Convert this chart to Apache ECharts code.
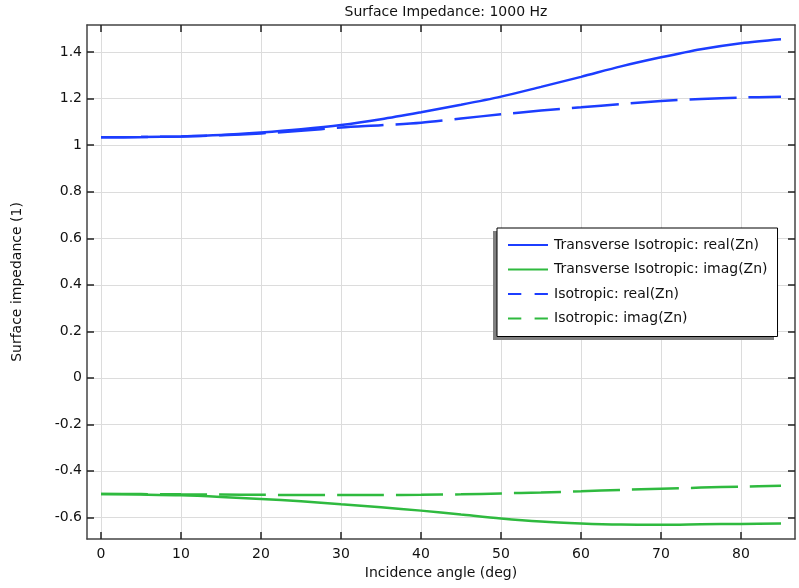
<!DOCTYPE html>
<html>
<head>
<meta charset="utf-8">
<script src="https://cdn.jsdelivr.net/npm/echarts@6/dist/echarts.min.js"></script>
<style>
html,body{margin:0;padding:0;background:#fff;}
#chart{width:799px;height:588px;}
</style>
</head>
<body>
<div id="chart"></div>
<script>
const angles = [0,5,10,15,20,25,30,35,40,45,50,55,60,65,70,75,80,85];
const tiReal = [1.034,1.035,1.038,1.044,1.055,1.069,1.087,1.112,1.142,1.174,1.209,1.251,1.294,1.339,1.378,1.413,1.439,1.456];
const tiImag = [-0.500,-0.502,-0.505,-0.512,-0.521,-0.531,-0.544,-0.557,-0.571,-0.588,-0.605,-0.618,-0.626,-0.631,-0.632,-0.630,-0.628,-0.626];
const isoReal = [1.034,1.035,1.038,1.043,1.051,1.062,1.076,1.086,1.097,1.115,1.133,1.149,1.163,1.177,1.190,1.199,1.205,1.209];
const isoImag = [-0.500,-0.500,-0.501,-0.502,-0.503,-0.504,-0.504,-0.504,-0.503,-0.501,-0.497,-0.493,-0.488,-0.482,-0.477,-0.472,-0.468,-0.464];
const seriesNames = ['Transverse Isotropic: real(Zn)','Transverse Isotropic: imag(Zn)','Isotropic: real(Zn)','Isotropic: imag(Zn)'];
const xTicks = [0,10,20,30,40,50,60,70,80];
const yTicks = [-0.6,-0.4,-0.2,0,0.2,0.4,0.6,0.8,1,1.2,1.4];
const titleText = 'Surface Impedance: 1000 Hz';
const xName = 'Incidence angle (deg)';
const yName = 'Surface impedance (1)';

const BLUE = '#1c3dff';
const GREEN = '#2fba3f';
const FONT = 'DejaVu Sans';
const FS = 14;
const pair = (ys) => angles.map((a,i)=>[a, ys[i]]);

const chart = echarts.init(document.getElementById('chart'), null, {renderer:'canvas'});
const xMin = -1.75, xMax = 86.75, yMin = -0.693, yMax = 1.517;
const gridLine = {show:true, lineStyle:{color:'#dcdcdc', width:1}};
const axisLine = {show:true, onZero:false, lineStyle:{color:'#444', width:1.5}};
const mkTick = (vals) => ({show:true, inside:true, length:7, customValues:vals, lineStyle:{color:'#222', width:1.5}});
const noSym = {color:'rgba(0,0,0,0)', borderWidth:0, borderColor:'rgba(0,0,0,0)', opacity:0};

chart.setOption({
  animation:false,
  backgroundColor:'#fff',
  title:{text:titleText, left:441, textAlign:'center', top:0,
    textStyle:{fontFamily:FONT, fontSize:FS, fontWeight:'normal', color:'#111'}},
  grid:{left:87, right:4, top:25, bottom:49},
  graphic:[
    {type:'rect', z:3, silent:true, shape:{x:493, y:231, width:281, height:109},
     style:{fill:'#808080'}}
  ],
  legend:{
    orient:'vertical', left:497, top:228, z:5,
    itemWidth:40, itemHeight:14, itemGap:10.5,
    padding:[10,10,11,10],
    backgroundColor:'#fff', borderColor:'#000', borderWidth:1,
    textStyle:{fontFamily:FONT, fontSize:FS, color:'#111', padding:[0,0,0,1]},
    itemStyle:noSym,
    data:[
      {name:seriesNames[0], itemStyle:noSym},
      {name:seriesNames[1], itemStyle:noSym},
      {name:seriesNames[2], itemStyle:noSym, lineStyle:{type:[13.3,13.3]}},
      {name:seriesNames[3], itemStyle:noSym, lineStyle:{type:[13.3,13.3]}}
    ]
  },
  xAxis:[
    {type:'value', min:xMin, max:xMax, position:'bottom',
     axisLine:axisLine, axisTick:mkTick(xTicks), splitLine:gridLine,
     axisLabel:{fontFamily:FONT, fontSize:FS, color:'#111', margin:8, customValues:xTicks},
     name:xName, nameLocation:'middle', nameGap:23,
     nameTextStyle:{fontFamily:FONT, fontSize:FS, color:'#111'}},
    {type:'value', min:xMin, max:xMax, position:'top',
     axisLine:axisLine, axisTick:mkTick(xTicks),
     axisLabel:{show:false}, splitLine:{show:false}}
  ],
  yAxis:[
    {type:'value', min:yMin, max:yMax, position:'left',
     axisLine:axisLine, axisTick:mkTick(yTicks), splitLine:gridLine,
     axisLabel:{fontFamily:FONT, fontSize:FS, color:'#111', margin:5, customValues:yTicks,
       formatter:(v)=>String(Math.round(v*10)/10)},
     name:yName, nameLocation:'middle', nameGap:63,
     nameTextStyle:{fontFamily:FONT, fontSize:FS, color:'#111'}},
    {type:'value', min:yMin, max:yMax, position:'right',
     axisLine:axisLine, axisTick:mkTick(yTicks),
     axisLabel:{show:false}, splitLine:{show:false}}
  ],
  series:[
    {name:seriesNames[0], type:'line', data:pair(tiReal), smooth:0.3, showSymbol:false, symbol:'none',
     lineStyle:{color:BLUE, width:2.5}, itemStyle:{color:BLUE}},
    {name:seriesNames[1], type:'line', data:pair(tiImag), smooth:0.3, showSymbol:false, symbol:'none',
     lineStyle:{color:GREEN, width:2.5}, itemStyle:{color:GREEN}},
    {name:seriesNames[2], type:'line', data:pair(isoReal), smooth:0.3, showSymbol:false, symbol:'none',
     lineStyle:{color:BLUE, width:2.5, type:[47,12]}, itemStyle:{color:BLUE}},
    {name:seriesNames[3], type:'line', data:pair(isoImag), smooth:0.3, showSymbol:false, symbol:'none',
     lineStyle:{color:GREEN, width:2.5, type:[47,12]}, itemStyle:{color:GREEN}}
  ]
});
</script>
</body>
</html>
